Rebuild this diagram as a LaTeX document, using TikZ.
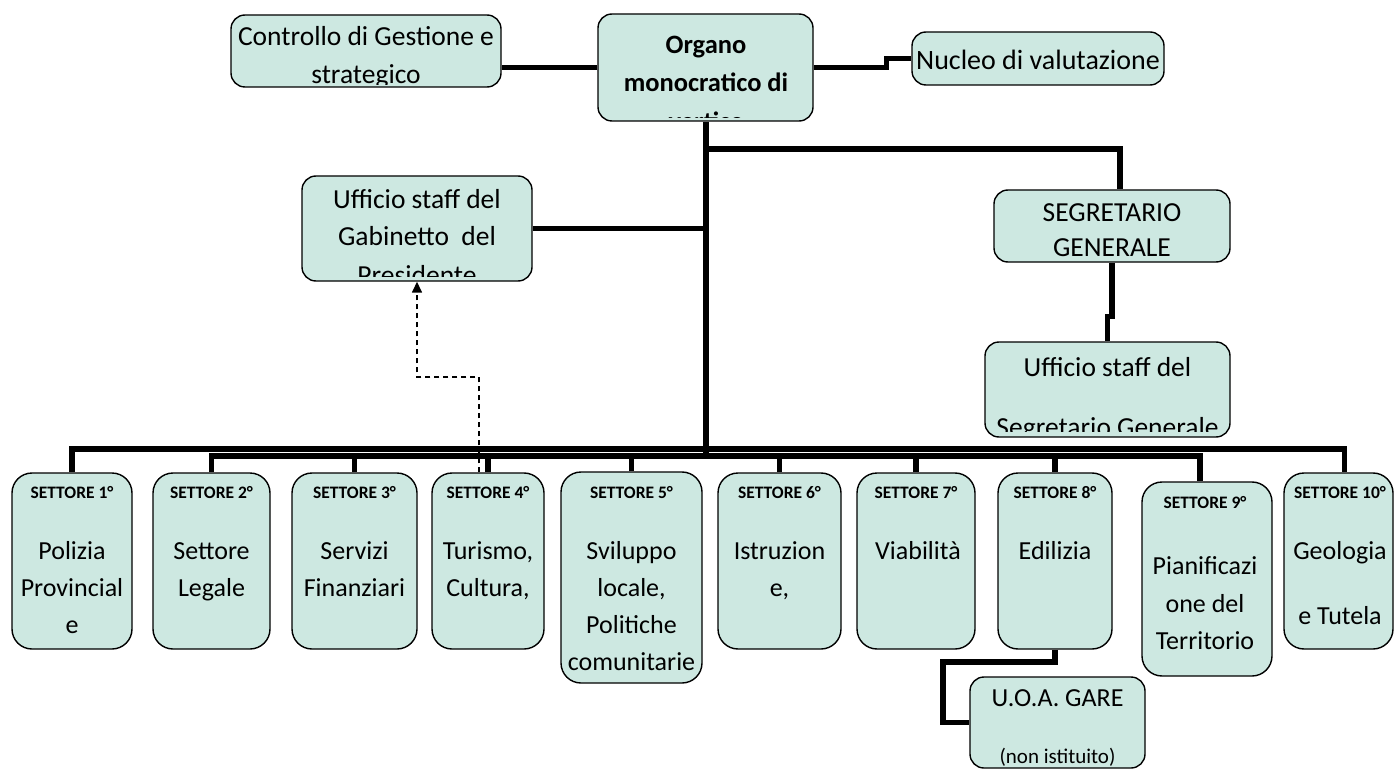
\documentclass[tikz,border=0pt]{standalone}
\usepackage{fontspec}
\setmainfont{Carlito}
\usetikzlibrary{arrows.meta,calc,backgrounds}
\definecolor{boxfill}{RGB}{205,232,225}
\newcommand\myT{\fontsize{26}{37}\selectfont}
\newcommand\myU{\fontsize{27.5}{37}\selectfont}
\newcommand\myN{\fontsize{28}{37}\selectfont}
\newcommand\myB{\fontsize{26.5}{37}\selectfont\bfseries}
\newcommand\myH{\fontsize{17.5}{22}\selectfont\bfseries}
\newcommand\myS{\fontsize{21}{25}\selectfont}
\begin{document}
\begin{tikzpicture}[x=1pt,y=-1pt,
  box/.style={draw=black, line width=1.4pt, fill=boxfill, rounded corners=14pt, inner sep=0pt},
  sbox/.style={box, rounded corners=20pt},
  conn/.style={line width=5.5pt, line join=miter},
  dconn/.style={line width=1.5pt, dash pattern=on 5pt off 4pt, -{Triangle[length=11pt,width=10pt]}},
  txt/.style={inner sep=0pt, anchor=base, font=\myT},
  utxt/.style={txt, font=\myU},
  ntxt/.style={txt, font=\myN},
  btxt/.style={txt, font=\myB},
  htxt/.style={txt, font=\myH},
  stxt/.style={txt, font=\myS}]
\useasboundingbox (0,0) rectangle (1395,770);

% ---- boxes ----
\node[box, minimum width=270pt, minimum height=72pt]  (ctrl) at (366,51) {};
\node[box, minimum width=215pt, minimum height=107pt] (org)  at (705.5,67.5) {};
\node[box, minimum width=252pt, minimum height=53pt]  (nuc)  at (1038,58.5) {};
\node[box, minimum width=230pt, minimum height=105pt] (gab)  at (417,228.5) {};
\node[box, minimum width=236pt, minimum height=72pt]  (seg)  at (1112,226) {};
\node[box, minimum width=245pt, minimum height=95pt]  (useg) at (1107.5,389.5) {};

\node[sbox, minimum width=120pt, minimum height=176pt] (s1)  at (72,561) {};
\node[sbox, minimum width=117pt, minimum height=176pt] (s2)  at (211.5,561) {};
\node[sbox, minimum width=125pt, minimum height=176pt] (s3)  at (354.5,561) {};
\node[sbox, minimum width=112pt, minimum height=176pt] (s4)  at (488,561) {};
\node[sbox, minimum width=141pt, minimum height=211pt] (s5)  at (631.5,577.5) {};
\node[sbox, minimum width=123pt, minimum height=176pt] (s6)  at (779.5,561) {};
\node[sbox, minimum width=118pt, minimum height=176pt] (s7)  at (916,561) {};
\node[sbox, minimum width=114pt, minimum height=176pt] (s8)  at (1055,561) {};
\node[sbox, minimum width=130pt, minimum height=194pt] (s9)  at (1207,579) {};
\node[sbox, minimum width=109pt, minimum height=176pt] (s10) at (1338.5,561) {};
\node[box, minimum width=175pt, minimum height=91pt]   (uoa) at (1057.5,722.5) {};

% ---- connectors ----
\coordinate (trunk) at (706,456);
\coordinate (busA) at (706,449);
\coordinate (busB) at (706,456);
\coordinate (br) at (706,149);
\coordinate (k1) at (943,662);
\coordinate (d1) at (479,377);
\begin{scope}[on background layer]
  \draw[conn] (org.west) -- (org.west -| ctrl.east);
  \draw[conn] (org.east) -- ++(73,0) |- (nuc.west);
  \draw[conn] (trunk |- org.south) -- (trunk);
  \draw[conn] (br) -| ($(seg.north)+(8,0)$);
  \draw[conn] (gab.east) -- (gab.east -| trunk);
  \draw[conn] (seg.south) -- ++(0,54) -| (useg.north);
  \draw[conn] (s1.north) -- (s1.north |- busA) -- ($(s10.north |- busA)+(6,0)$) -- ($(s10.north)+(6,0)$);
  \draw[conn] (s2.north) -- (s2.north |- busB) -- ($(s9.north |- busB)+(-7,0)$) -- ($(s9.north)+(-7,0)$);
  \foreach \s in {s3,s4,s5,s6,s7,s8}
    \draw[conn] (\s.north) -- (\s.north |- busB);
  \draw[conn] (s8.south) |- (k1) |- (uoa.west);
  \draw[dconn] (s4.north -| d1) -- (d1) -| (gab.south);
\end{scope}

% ---- texts ----
\begin{scope}
  \clip (ctrl.north west) rectangle ($(ctrl.south east)+(0,-3)$);
  \node[utxt] (ctrlA) at (366,46) {Controllo di Gestione e};
  \node[utxt] (ctrlB) at (366,84) {strategico};
\end{scope}
\begin{scope}
  \clip (org.north west) rectangle ($(org.south east)+(0,-4)$);
  \node[btxt] (orgA) at (706,54) {Organo};
  \node[btxt] (orgB) at (706,92) {monocratico di};
  \node[btxt] (orgC) at (706,131) {vertice};
\end{scope}
\node[ntxt] (nucA) at (1038,70) {Nucleo di valutazione};
\begin{scope}
  \clip (gab.north west) rectangle ($(gab.south east)+(0,-5)$);
  \node[utxt] (gabA) at (417,209) {Ufficio staff del};
  \node[utxt] (gabB) at (417,246) {Gabinetto\ \ del};
  \node[utxt] (gabC) at (417,284) {Presidente};
\end{scope}
\node[utxt] (segA) at (1112,222) {SEGRETARIO};
\node[utxt] (segB) at (1112,257) {GENERALE};
\begin{scope}
  \clip (useg.north west) rectangle ($(useg.south east)+(0,-6)$);
  \node[utxt] (usegA) at (1107.5,376) {Ufficio staff del};
  \node[utxt] (usegB) at (1107.5,436) {Segretario Generale};
\end{scope}

\node[htxt] (h1) at (72,498) {SETTORE 1°};
\node[txt] (t1a) at (72,559) {Polizia};
\node[txt] (t1b) at (72,596) {Provincial};
\node[txt] (t1c) at (72,633) {e};

\node[htxt] (h2) at (211.5,498) {SETTORE 2°};
\node[txt] (t2a) at (211.5,559) {Settore};
\node[txt] (t2b) at (211.5,596) {Legale};

\node[htxt] (h3) at (354.5,498) {SETTORE 3°};
\node[txt] (t3a) at (354.5,559) {Servizi};
\node[txt] (t3b) at (354.5,596) {Finanziari};

\node[htxt] (h4) at (488,498) {SETTORE 4°};
\node[txt] (t4a) at (488,559) {Turismo,};
\node[txt] (t4b) at (488,596) {Cultura,};

\node[htxt] (h5) at (631.5,498) {SETTORE 5°};
\node[txt] (t5a) at (631.5,559) {Sviluppo};
\node[txt] (t5b) at (631.5,596) {locale,};
\node[txt] (t5c) at (631.5,633) {Politiche};
\node[txt] (t5d) at (631.5,670) {comunitarie};

\node[htxt] (h6) at (779.5,498) {SETTORE 6°};
\node[txt] (t6a) at (779.5,559) {Istruzion};
\node[txt] (t6b) at (779.5,596) {e,};

\node[htxt] (h7) at (916,498) {SETTORE 7°};
\node[txt] (t7a) at (918,559) {Viabilità};

\node[htxt] (h8) at (1055,498) {SETTORE 8°};
\node[txt] (t8a) at (1055,559) {Edilizia};

\node[htxt] (h9) at (1205,508) {SETTORE 9°};
\node[txt] (t9a) at (1205,574) {Pianificazi};
\node[txt] (t9b) at (1205,612) {one del};
\node[txt] (t9c) at (1205,649) {Territorio};

\node[htxt] (h10) at (1340,498) {SETTORE 10°};
\node[txt] (t10a) at (1340,559) {Geologia};
\node[txt] (t10b) at (1340,624) {e Tutela};

\node[txt] (uoaA) at (1057.5,706) {U.O.A. GARE};
\node[stxt] (uoaB) at (1057.5,763) {(non istituito)};
\end{tikzpicture}
\end{document}
